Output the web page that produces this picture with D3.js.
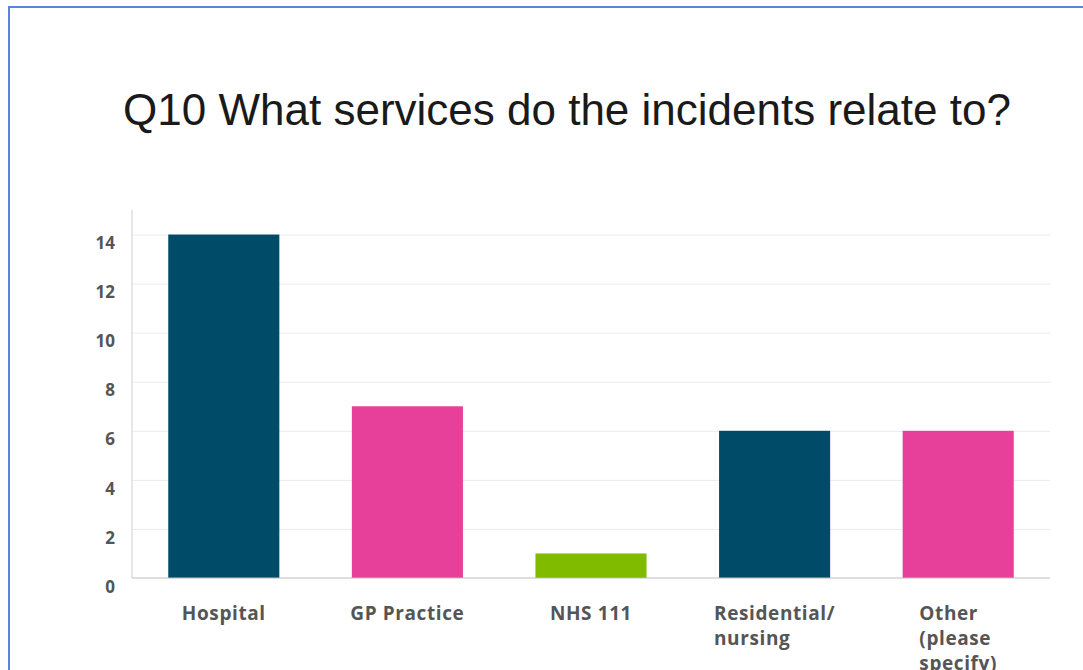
<!DOCTYPE html>
<html>
<head>
<meta charset="utf-8">
<script src="https://cdn.jsdelivr.net/npm/d3@7"></script>
<style>
  html, body { margin: 0; padding: 0; background: #fff; overflow: hidden; }
  #chart { width: 1083px; height: 670px; }
</style>
</head>
<body>
<div id="chart"></div>
<script>
// data
var categories = ["Hospital", "GP Practice", "NHS 111", "Residential/\nnursing", "Other\n(please\nspecify)"];
var counts = [14, 7, 1, 6, 6];
var barColors = ["#004b67", "#e6409a", "#80bb00", "#004b67", "#e6409a"];
var yTicks = [0, 2, 4, 6, 8, 10, 12, 14];
var title = "Q10 What services do the incidents relate to?";

var totalWidth = 1083, totalHeight = 670;
var margin = { top: 210, left: 132, bottom: 92, right: 33 };
var width = totalWidth - margin.left - margin.right;
var height = totalHeight - margin.top - margin.bottom;

var svg = d3.select("#chart").append("svg")
	.attr("width", totalWidth)
	.attr("height", totalHeight);

// frame
svg.append("line")
	.attr("x1", 8).attr("y1", 7).attr("x2", totalWidth).attr("y2", 7)
	.attr("stroke", "#5a85d8").attr("stroke-width", 2);
svg.append("line")
	.attr("x1", 9).attr("y1", 6).attr("x2", 9).attr("y2", totalHeight)
	.attr("stroke", "#5a85d8").attr("stroke-width", 2);

svg.append("text")
	.attr("x", 567)
	.attr("y", 125)
	.attr("text-anchor", "middle")
	.style("font-family", "'Liberation Sans', Arial, sans-serif")
	.style("font-size", "44px")
	.style("fill", "#1a1a1a")
	.text(title);

var g = svg.append("g")
	.attr("transform", "translate(" + margin.left + "," + margin.top + ")");

var xScale = d3.scaleBand()
	.domain(categories)
	.range([0, width])
	.paddingInner(0.395)
	.paddingOuter(0.1975);

var yScale = d3.scaleLinear().domain([0, 15]).range([height, 0]);

// grid
var yAxis = d3.axisLeft(yScale)
	.tickValues(yTicks)
	.tickSize(0)
	.tickPadding(17);

var yAxisGroup = g.append("g").call(yAxis);
yAxisGroup.select(".domain").remove();
yAxisGroup.selectAll(".tick text")
	.attr("dy", "0.95em")
	.attr("y", -2)
	.style("font-family", "'Open Sans', sans-serif")
	.style("font-weight", "700")
	.style("font-size", "17px")
	.style("fill", "#555");
yAxisGroup.selectAll(".tick")
	.filter(function (d) { return d > 0; })
	.append("line")
	.attr("x1", 0).attr("x2", width)
	.attr("stroke", "#ebebeb");

g.append("line")
	.attr("x1", 0).attr("x2", 0)
	.attr("y1", 0).attr("y2", height)
	.attr("stroke", "#cfcfcf");

g.selectAll("rect.bar")
	.data(counts)
	.enter()
	.append("rect")
	.attr("class", "bar")
	.attr("x", function (d, i) { return xScale(categories[i]); })
	.attr("y", function (d) { return yScale(d); })
	.attr("width", xScale.bandwidth())
	.attr("height", function (d) { return height - yScale(d); })
	.attr("fill", function (d, i) { return barColors[i]; });

g.append("line")
	.attr("x1", 0).attr("x2", width)
	.attr("y1", height).attr("y2", height)
	.attr("stroke", "#bdbdbd");

// x labels: block centred on the band, lines left aligned
var labelGroup = g.append("g").attr("transform", "translate(0," + height + ")");
categories.forEach(function (c, i) {
	var t = labelGroup.append("text")
		.style("font-family", "'Open Sans', sans-serif")
		.style("font-weight", "700")
		.style("font-size", "19px")
		.style("letter-spacing", "0.6px")
		.style("fill", "#555");
	c.split("\n").forEach(function (line, j) {
		t.append("tspan").attr("x", 0).attr("y", 42 + j * 25).text(line);
	});
	var w = t.node().getBBox().width;
	t.attr("transform", "translate(" + (xScale(c) + xScale.bandwidth() / 2 - w / 2) + ",0)");
});
</script>
</body>
</html>
